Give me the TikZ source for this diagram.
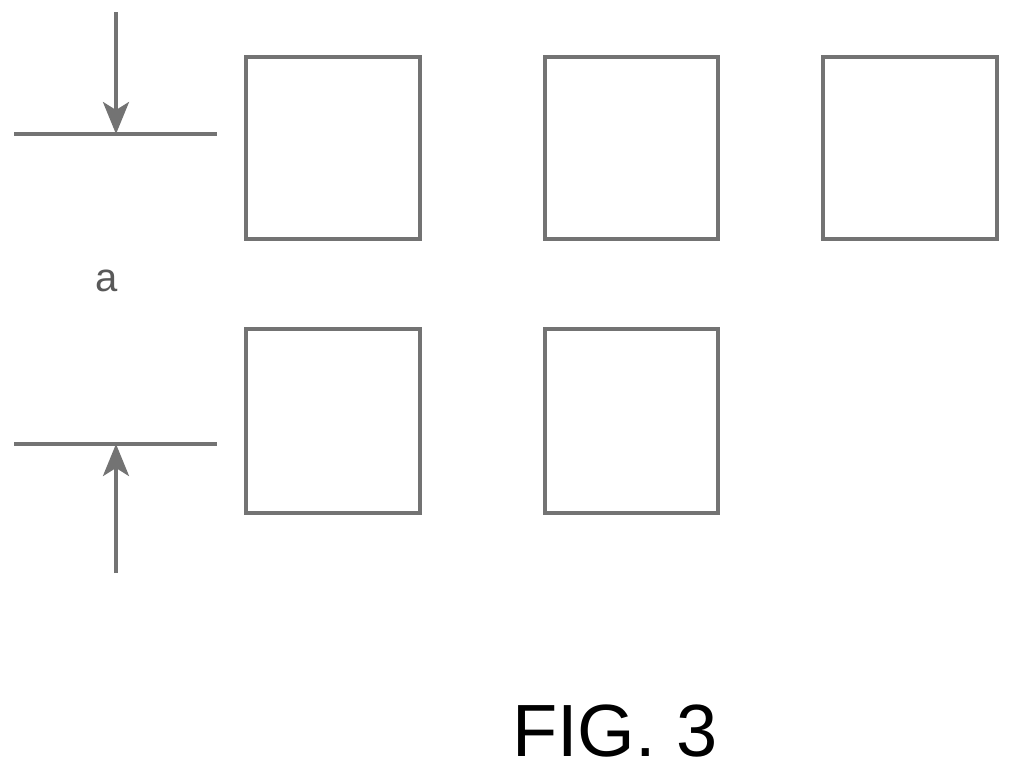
\documentclass[tikz,border=0pt]{standalone}
\usepackage{fontspec}
\setmainfont{Liberation Sans}
\usetikzlibrary{arrows.meta}
\begin{document}
\begin{tikzpicture}[x=1pt,y=-1pt,
  ln/.style={draw=black!55,line width=3.6pt},
  box/.style={ln},
  arr/.style={ln,-{Stealth[length=32pt,width=26pt,inset=8pt]}}]
\useasboundingbox (0,0) rectangle (1009,772);
\draw[box] (246,57) rectangle (420,239);
\draw[box] (545,57) rectangle (718,239);
\draw[box] (823,57) rectangle (997,239);
\draw[box] (246,329) rectangle (420,513);
\draw[box] (545,329) rectangle (718,513);
\coordinate (l1a) at (14,134); \coordinate (l1b) at (217,134);
\coordinate (l2a) at (14,444); \coordinate (l2b) at (217,444);
\coordinate (t1) at (116,12); \coordinate (h1) at (116,134);
\coordinate (t2) at (116,573); \coordinate (h2) at (116,444);
\draw[ln] (l1a) -- (l1b);
\draw[ln] (l2a) -- (l2b);
\draw[arr] (t1) -- (h1);
\draw[arr] (t2) -- (h2);
\node[text=black!65,font=\fontsize{40}{44}\selectfont] (a) at (107,281) {a};
\node[font=\fontsize{74}{80}\selectfont] (fig) at (615,731) {FIG. 3};
\end{tikzpicture}
\end{document}
